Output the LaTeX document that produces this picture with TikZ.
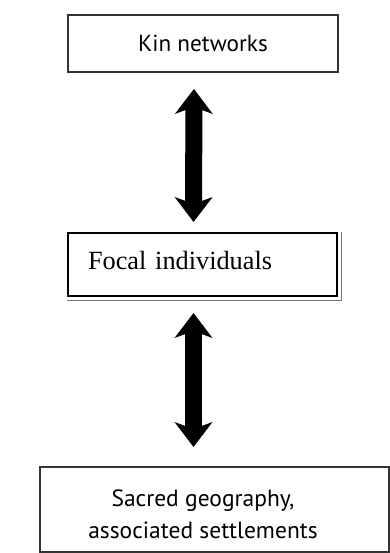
\documentclass[tikz,border=0pt]{standalone}
\usepackage{fontspec}
\setmainfont{Liberation Serif}
\newfontfamily\boxsans{PT Sans}
\usetikzlibrary{arrows.meta}
\begin{document}
\begin{tikzpicture}[x=1pt,y=-1pt,
    box/.style={draw=black!80,line width=2pt,inner sep=0pt},
    bigtip/.tip={Stealth[length=25pt,width=38pt,inset=7pt,line width=0pt]},
    twohead/.style={line width=17pt,bigtip-bigtip}]
  \useasboundingbox (0,0) rectangle (390,553);
  \node[box,minimum width=270pt,minimum height=57pt,font=\boxsans\fontsize{23.2}{27}\selectfont]
    (kin) at (203,43.5) {Kin networks};
  \node[box,draw=black,minimum width=269pt,minimum height=63pt,text width=229pt,text depth=9pt,
    align=left,font=\fontsize{26.3}{30}\selectfont]
    (focal) at (202.5,264.5) {Focal individuals};
  \draw[black!55,line width=1pt] ([yshift=-3pt]focal.south west) -- ([shift={(3pt,-3pt)}]focal.south east)
    -- ([xshift=3pt]focal.north east);
  \node[box,minimum width=349pt,minimum height=85pt] (sacredbox) at (214.5,509.5) {};
  \node[align=center,font=\boxsans\fontsize{23.5}{32}\selectfont] (sacred) at (203,514)
    {Sacred geography,\\associated settlements};
  \begin{scope}[twohead]
    \draw[shorten <=16pt,shorten >=10pt] ([xshift=-9pt]kin.south) to ([xshift=-9pt]focal.north);
    \draw[shorten <=16pt,shorten >=19pt] ([xshift=-9pt]focal.south) to ([xshift=-9pt]sacredbox.north -| focal.south);
  \end{scope}
\end{tikzpicture}
\end{document}
